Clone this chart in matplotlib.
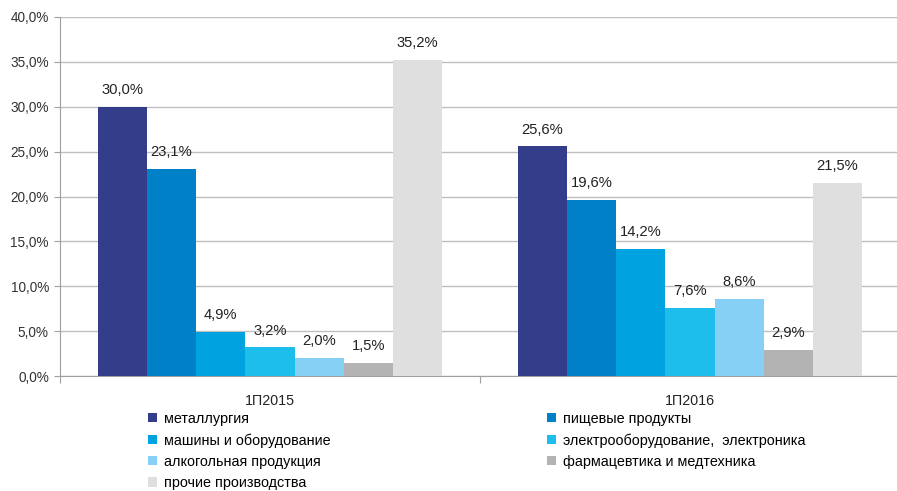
import matplotlib
matplotlib.use("Agg")
import matplotlib.pyplot as plt
import numpy as np

categories = ["1П2015", "1П2016"]
series_names = ["металлургия", "пищевые продукты", "машины и оборудование",
                "электрооборудование,  электроника", "алкогольная продукция",
                "фармацевтика и медтехника", "прочие производства"]
values = [
    [30.0, 25.6],
    [23.1, 19.6],
    [4.9, 14.2],
    [3.2, 7.6],
    [2.0, 8.6],
    [1.5, 2.9],
    [35.2, 21.5],
]
colors = ["#333D8A", "#0080C6", "#00A2E0", "#1DBDEC", "#86D0F5", "#B3B3B3", "#DFDFDF"]
yticks = [0, 5, 10, 15, 20, 25, 30, 35, 40]

plt.rcParams['font.family'] = ['Liberation Sans', 'DejaVu Sans']

fig = plt.figure(figsize=(8.97, 4.91), dpi=100)
ax = fig.add_axes([60/897, 1-376/491, (900-60)/897, (376-17)/491])

n = len(series_names)
group_w = 0.82
bw = group_w / n
x = np.arange(len(categories))
handles = []
for i, (name, vals, c) in enumerate(zip(series_names, values, colors)):
    pos = x - group_w/2 + bw*(i+0.5)
    b = ax.bar(pos, vals, width=bw, color=c, label=name, zorder=3)
    handles.append(b)
    for p, v in zip(pos, vals):
        ax.annotate(f"{v:.1f}%".replace(".", ","), (p, v), xytext=(0, 7),
                    textcoords="offset points", ha="center", va="bottom",
                    fontsize=10.6, color="#222222")

ax.set_xlim(-0.5, 1.5)
ax.set_ylim(0, 40)
ax.set_yticks(yticks)
ax.set_yticklabels([f"{t:.1f}%".replace(".", ",") for t in yticks], fontsize=9.8, color="#333333")
ax.yaxis.grid(True, color="#BFBFBF", linewidth=1, zorder=0)
ax.set_xticks([-0.5, 0.5, 1.5])
ax.set_xticklabels([])
ax.set_xticks(x, minor=True)
ax.set_xticklabels(categories, minor=True, fontsize=10.3, color="#222222")
ax.tick_params(axis="x", which="minor", length=0, pad=13)
ax.tick_params(axis="x", which="major", length=5, color="#A0A0A0")
ax.tick_params(axis="y", length=4, color="#A0A0A0", pad=4)
for s in ["top", "right"]:
    ax.spines[s].set_visible(False)
for s in ["left", "bottom"]:
    ax.spines[s].set_color("#A0A0A0")

legkw = dict(loc="upper left", frameon=False, fontsize=10.4, handlelength=0.6,
             handleheight=0.6, handletextpad=0.5, labelspacing=0.5,
             borderaxespad=0, borderpad=0)
col1 = [0, 2, 4, 6]
col2 = [1, 3, 5]
fig.legend([handles[i] for i in col1], [series_names[i] for i in col1],
           bbox_to_anchor=(148/897, 1-412/491), **legkw)
fig.legend([handles[i] for i in col2], [series_names[i] for i in col2],
           bbox_to_anchor=(547/897, 1-412/491), **legkw)

fig.savefig("out.png", dpi=100)
